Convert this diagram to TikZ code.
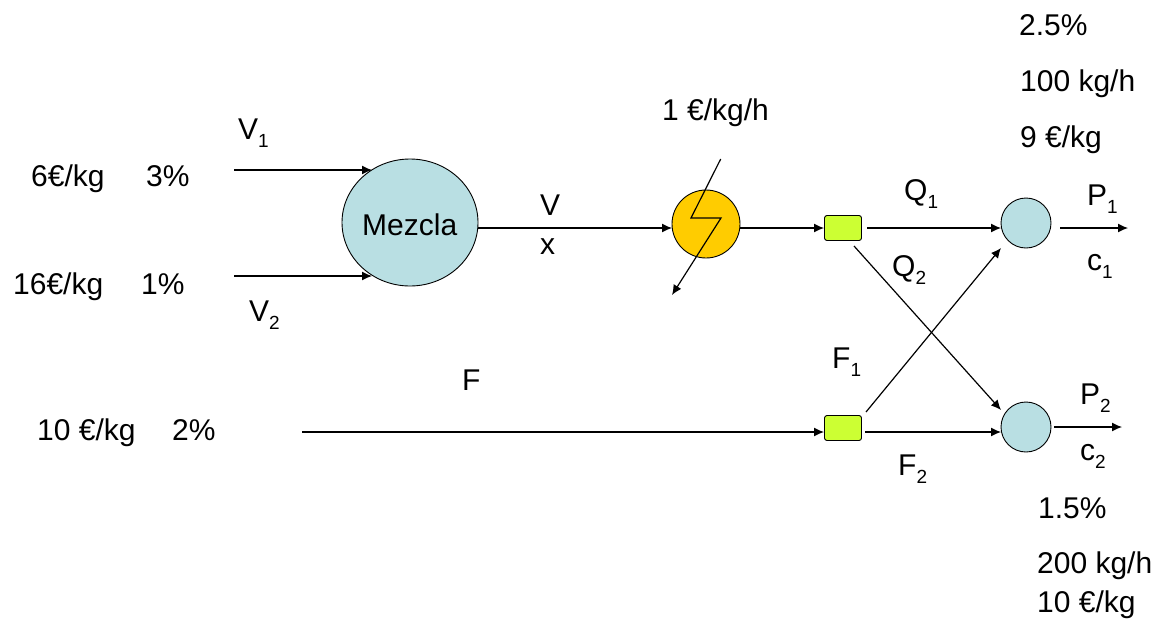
\documentclass[tikz,border=0pt]{standalone}
\usepackage{fontspec}
\setmainfont{Liberation Sans}
\usetikzlibrary{arrows.meta,shapes.geometric}
\newcommand{\subs}[1]{\raisebox{-0.27em}{\fontsize{19}{19}\selectfont #1}}
\tikzset{
  x=1pt,y=-1pt,
  lbl/.style={anchor=base west,inner sep=0pt,font=\fontsize{30}{30}\selectfont},
  flow/.style={line width=1.2pt,-{Latex[length=10pt,width=9pt]}},
  unit/.style={draw,circle,line width=0.9pt,inner sep=0pt,minimum size=#1},
  mixfill/.style={fill=mixblue},
  splitter/.style={draw,rounded corners=2.5pt,line width=0.9pt,fill=splitgreen,minimum width=37pt,minimum height=25pt,inner sep=0pt},
}
\definecolor{mixblue}{HTML}{B9DFE3}
\definecolor{heatorange}{HTML}{FFCC00}
\definecolor{splitgreen}{HTML}{CCFF33}
\begin{document}
\begin{tikzpicture}
\useasboundingbox (0,0) rectangle (1164,619);
% units
\node[draw,ellipse,line width=0.9pt,inner sep=0pt,minimum width=136pt,minimum height=127pt,mixfill] (mez) at (410,222.5) {};
\node[lbl] (mezt) at (362,235) {Mezcla};
\node[unit=68pt,fill=heatorange] (heat) at (706,224) {};
\node[splitter] (s1) at (843,228) {};
\node[splitter] (s2) at (843,428) {};
\node[unit=50pt,mixfill] (p1) at (1026,223) {};
\node[unit=50pt,mixfill] (p2) at (1026,427) {};
% free ends
\coordinate (v1a) at (234,170); \coordinate (v1b) at (372,170);
\coordinate (v2a) at (234,276); \coordinate (v2b) at (372,276);
\coordinate (m1) at (478,228); \coordinate (h1) at (672,228);
\coordinate (h2) at (740,228); \coordinate (s1in) at (824,228);
\coordinate (fa) at (302,432); \coordinate (s2in) at (824,432);
\coordinate (q1a) at (867,228); \coordinate (q1b) at (1001,228);
\coordinate (q2a) at (854,246); \coordinate (q2b) at (1001,410);
\coordinate (f1a) at (866,412); \coordinate (f1b) at (1001,248);
\coordinate (f2a) at (865,432); \coordinate (f2b) at (1001,432);
\coordinate (p1a) at (1060,228); \coordinate (p1b) at (1128,228);
\coordinate (p2a) at (1054,427); \coordinate (p2b) at (1122,427);
\coordinate (z1) at (720.7,159); \coordinate (z2) at (691,218);
\coordinate (z3) at (721,218); \coordinate (z4) at (672,295);
% connectors
\draw[flow] (v1a) -- (v1b);
\draw[flow] (v2a) -- (v2b);
\draw[flow] (m1) -- (h1);
\draw[flow] (h2) -- (s1in);
\draw[flow] (fa) -- (s2in);
\draw[flow] (q1a) -- (q1b);
\draw[flow] (q2a) -- (q2b);
\draw[flow] (f1a) -- (f1b);
\draw[flow] (f2a) -- (f2b);
\draw[flow] (p1a) -- (p1b);
\draw[flow] (p2a) -- (p2b);
\draw[flow,line join=miter] (z1) -- (z2) -- (z3) -- (z4);
% labels
\node[lbl] (t1) at (1019,35) {2.5\%};
\node[lbl] (t2) at (1020,91) {100 kg/h};
\node[lbl] (t3) at (1020,147) {9 €/kg};
\node[lbl] (t4) at (662,120) {1 €/kg/h};
\node[lbl] (t5) at (238,139) {V\subs{1}};
\node[lbl] (t6) at (31,186) {6€/kg};
\node[lbl] (t7) at (146,186) {3\%};
\node[lbl] (t8) at (13,294) {16€/kg};
\node[lbl] (t9) at (141,294) {1\%};
\node[lbl] (t10) at (249,321) {V\subs{2}};
\node[lbl] (t11) at (540,215) {V};
\node[lbl] (t12) at (540,254) {x};
\node[lbl] (t13) at (904,200) {Q\subs{1}};
\node[lbl] (t14) at (892,276) {Q\subs{2}};
\node[lbl] (t15) at (1087,205) {P\subs{1}};
\node[lbl] (t16) at (1087,270) {c\subs{1}};
\node[lbl] (t17) at (462,390) {F};
\node[lbl] (t18) at (832,368) {F\subs{1}};
\node[lbl] (t19) at (1080,404) {P\subs{2}};
\node[lbl] (t20) at (1080,460) {c\subs{2}};
\node[lbl] (t21) at (898,475) {F\subs{2}};
\node[lbl] (t22) at (37,440) {10 €/kg};
\node[lbl] (t23) at (172,440) {2\%};
\node[lbl] (t24) at (1038,518) {1.5\%};
\node[lbl] (t25) at (1037,573) {200 kg/h};
\node[lbl] (t26) at (1037,612) {10 €/kg};
\end{tikzpicture}
\end{document}
